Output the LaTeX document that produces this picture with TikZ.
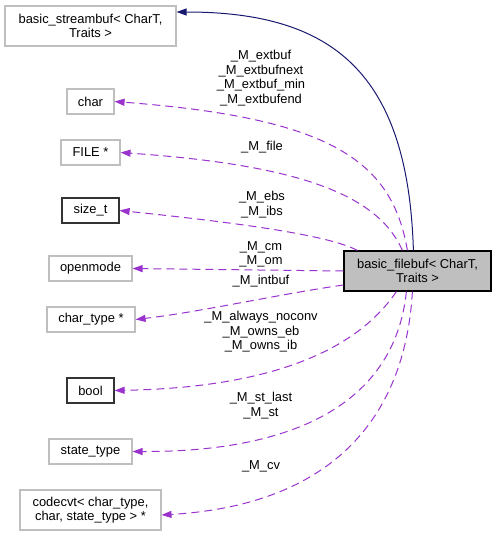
\documentclass[tikz,border=0pt]{standalone}
\usepackage{fontspec}
\setmainfont{Liberation Sans}
\usetikzlibrary{arrows.meta}
\definecolor{usecol}{HTML}{9A32CD}
\definecolor{inhcol}{HTML}{191970}
\definecolor{boxgray}{HTML}{BFBFBF}
\definecolor{fbfill}{HTML}{BFBFBF}
\begin{document}
\begin{tikzpicture}[x=1pt,y=-1pt,
  every node/.style={font=\fontsize{12.9}{14.5}\selectfont, inner sep=0pt},
  cls/.style={draw=boxgray, line width=1.1pt, rectangle, align=center},
  dcls/.style={draw=black!80, line width=1.2pt, rectangle, align=center},
  lbl/.style={align=center},
  usedge/.style={draw=usecol, line width=1pt, dash pattern=on 8pt off 5pt, -{Triangle[length=10pt,width=7pt]}},
  inhedge/.style={draw=inhcol, line width=1pt, -{Triangle[length=10pt,width=7pt]}}]
\useasboundingbox (0,0) rectangle (496,536);

\node[cls, minimum width=171pt, minimum height=40pt] (sb) at (90.5,26) {basic\_streambuf< CharT,\\Traits >};
\node[cls, minimum width=47pt, minimum height=25pt] (ch) at (90.5,101.5) {char};
\node[cls, minimum width=59pt, minimum height=25pt] (fl) at (90.5,152.5) {FILE *};
\node[dcls, minimum width=57pt, minimum height=25pt] (sz) at (90.5,210.5) {size\_t};
\node[cls, minimum width=83pt, minimum height=25pt] (om) at (90.5,268.5) {openmode};
\node[cls, minimum width=88pt, minimum height=25pt] (ct) at (91,319.5) {char\_type *};
\node[dcls, minimum width=47pt, minimum height=25pt] (bl) at (90.5,390.5) {bool};
\node[cls, minimum width=83pt, minimum height=25pt] (st) at (90.5,451.5) {state\_type};
\node[cls, minimum width=141pt, minimum height=40pt] (cc) at (90.5,510) {codecvt< char\_type,\\char, state\_type > *};
\node[draw=black, fill=fbfill, line width=1.2pt, rectangle, align=center, minimum width=147pt, minimum height=40pt] (fb) at (417.5,271) {basic\_filebuf< CharT,\\Traits >};

\draw[inhedge] ([xshift=70pt]fb.north west) .. controls (408,70) and (330,12) .. ([yshift=14pt]sb.east);

\draw[usedge] ([xshift=64pt]fb.north west) .. controls (392,160) and (330,118) .. (ch.east);
\draw[usedge] ([xshift=59pt]fb.north west) .. controls (378,195) and (300,165) .. (fl.east);
\draw[usedge] ([xshift=14pt]fb.north west) .. controls (330,236) and (250,224) .. (sz.east);
\draw[usedge] (fb.west) -- (om.east);
\draw[usedge] ([yshift=-14pt]fb.west) .. controls (280,294) and (200,312) .. (ct.east);
\draw[usedge] ([xshift=53pt]fb.south west) .. controls (350,360) and (250,388) .. (bl.east);
\draw[usedge] ([xshift=63pt]fb.south west) .. controls (395,400) and (300,452) .. (st.east);
\draw[usedge] ([xshift=69pt]fb.south west) .. controls (405,420) and (330,505) .. ([yshift=-5pt]cc.east);

\node[lbl] (l1) at (261,78) {\_M\_extbuf\\\_M\_extbufnext\\\_M\_extbuf\_min\\\_M\_extbufend};
\node[lbl] (l2) at (262,147) {\_M\_file};
\node[lbl] (l3) at (262,204.5) {\_M\_ebs\\\_M\_ibs};
\node[lbl] (l4) at (261,254.5) {\_M\_cm\\\_M\_om};
\node[lbl] (l5) at (261,281) {\_M\_intbuf};
\node[lbl] (l6) at (261,332) {\_M\_always\_noconv\\\_M\_owns\_eb\\\_M\_owns\_ib};
\node[lbl] (l7) at (261,405.5) {\_M\_st\_last\\\_M\_st};
\node[lbl] (l8) at (261,466) {\_M\_cv};
\end{tikzpicture}
\end{document}
